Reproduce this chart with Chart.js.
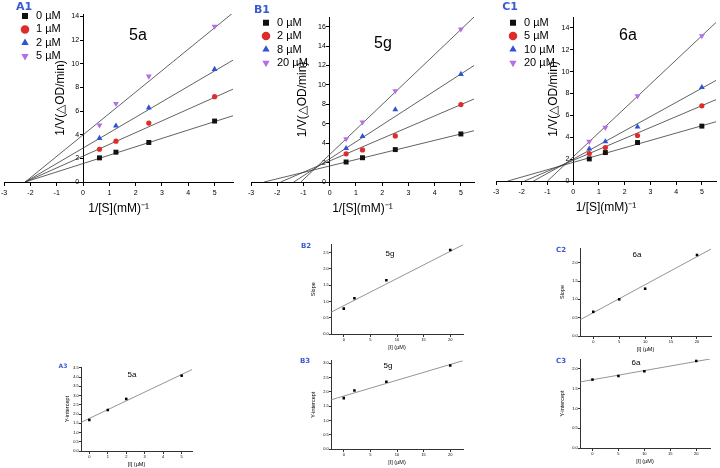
<!DOCTYPE html>
<html>
<head>
<meta charset="utf-8">
<script src="https://cdn.jsdelivr.net/npm/chart.js@4.4.0/dist/chart.umd.min.js"></script>
<style>
body { margin: 0; background: #fff; }
#wrap { position: relative; width: 720px; height: 468px; overflow: hidden; font-family: "Liberation Sans", Arial, sans-serif; }
canvas { position: absolute; }
.note { position: absolute; transform: translate(-50%, -50%); white-space: nowrap; line-height: 1; color: #000; }
.tag { color: #3a5bd2; font-weight: bold; font-family: "DejaVu Sans", sans-serif; }
</style>
</head>
<body>
<div id="wrap">
  <canvas id="a1" width="240" height="215" style="left:-3px;top:0"></canvas>
  <canvas id="b1" width="240" height="215" style="left:240px;top:0"></canvas>
  <canvas id="c1" width="240" height="215" style="left:480px;top:0"></canvas>
  <canvas id="a3" width="200" height="108" style="left:20px;top:360px"></canvas>
  <canvas id="b2" width="180" height="115" style="left:300px;top:240px"></canvas>
  <canvas id="b3" width="180" height="113" style="left:300px;top:355px"></canvas>
  <canvas id="c2" width="180" height="115" style="left:540px;top:240px"></canvas>
  <canvas id="c3" width="180" height="113" style="left:540px;top:355px"></canvas>
</div>
<script>
// Lineweaver-Burk 數據 (1/[S] 對 1/V)
const sInv = [0.625, 1.25, 2.5, 5];

const a1Conc = ['0 µM', '1 µM', '2 µM', '5 µM'];
const a1Rates = [
    [2.04, 2.52, 3.34, 5.15],
    [2.77, 3.45, 4.98, 7.21],
    [3.70, 4.75, 6.28, 9.53],
    [4.80, 6.62, 8.94, 13.15]
];
const a1FitX = [[-2.2, 5.7], [-2.2, 5.7], [-2.2, 5.7], [-2.2, 5.7]];
const a1FitY = [[0, 5.6], [0, 7.85], [0, 10.3], [0, 14.3]];

const b1Conc = ['0 µM', '2 µM', '8 µM', '20 µM'];
const b1Rates = [
    [2.06, 2.50, 3.34, 4.95],
    [2.90, 3.30, 4.75, 7.98],
    [3.47, 4.71, 7.46, 11.10],
    [4.44, 6.16, 9.39, 15.75]
];
const b1FitX = [[-2.5, 5.5], [-1.87, 5.5], [-1.37, 5.5], [-1.1, 5.5]];
const b1FitY = [[0, 5.28], [0, 8.55], [0, 12.0], [0, 17.0]];

const c1Conc = ['0 µM', '5 µM', '10 µM', '20 µM'];
const c1Rates = [
    [2.02, 2.60, 3.52, 5.02],
    [2.51, 3.06, 4.16, 6.88],
    [2.94, 3.61, 4.95, 8.56],
    [3.61, 4.89, 7.77, 13.27]
];
const c1FitX = [[-2.54, 5.55], [-1.89, 5.55], [-1.54, 5.55], [-1.0, 5.55]];
const c1FitY = [[0, 5.42], [0, 7.44], [0, 9.2], [0, 14.5]];

// 二次作圖 (slope / Y-intercept 對 [I])
const a3Inh = [0, 1, 2, 5];
const a3Icept = [1.68, 2.22, 2.82, 4.08];
const a3FitX = [-0.45, 5.56];
const a3FitY = [1.55, 4.41];

const b2Inh = [0, 2, 8, 20];
const b2Slope = [0.78, 1.10, 1.65, 2.58];
const b2FitX = [-2.4, 22.4];
const b2FitY = [0.67, 2.74];
const b3Icept = [1.78, 2.05, 2.35, 2.92];
const b3FitX = [-2.4, 22.4];
const b3FitY = [1.72, 3.09];

const c2Inh = [0, 5, 10, 20];
const c2Slope = [0.66, 1.00, 1.29, 2.21];
const c2FitX = [-2.56, 22.7];
const c2FitY = [0.44, 2.37];
const c3Icept = [1.73, 1.82, 1.94, 2.20];
const c3FitX = [-2.4, 22.65];
const c3FitY = [1.67, 2.25];

// 樣式
const markColors = ['#111111', '#e02b2b', '#2f52d6', '#b46ee6'];
const markStyles = ['rect', 'circle', 'triangle', 'triangle'];
const markRot = [0, 0, 0, 180];
const markSize = [3.5, 2.6, 3.4, 3.4];

Chart.defaults.font.family = '"Liberation Sans", Arial, sans-serif';
Chart.defaults.color = '#000';

// 旋轉的 y 軸標題 (positioned axis 的內建標題方向相反)
const yTitle = {
    id: 'yTitle',
    afterDraw(chart, args, opts) {
        if (!opts.text) return;
        const { ctx, chartArea, scales } = chart;
        const at = scales.x.getPixelForValue(opts.axisAt);
        ctx.save();
        ctx.translate(at - opts.offset, (chartArea.top + chartArea.bottom) / 2);
        ctx.rotate(-Math.PI / 2);
        ctx.font = opts.size + 'px "Liberation Sans", Arial, sans-serif';
        ctx.fillStyle = '#000';
        ctx.textAlign = 'center';
        ctx.textBaseline = 'middle';
        ctx.fillText(opts.text, 0, 0);
        ctx.restore();
    }
};

// 把 chartArea 內的圖例移到指定位置 (第一個標記中心)
const legendShift = {
    id: 'legendShift',
    afterLayout(chart, args, opts) {
        const lg = chart.legend;
        if (!lg || !opts.at) return;
        const lo = lg.options.labels;
        const fs = lo.font.size;
        const bw = Math.min(lo.boxWidth, fs);
        lg.left += opts.at[0] - (lg.left + lo.padding + bw / 2);
        lg.top += opts.at[1] - (lg.top + lo.padding + fs / 2);
    }
};

function axisStyle(lineColor, tick) {
    return {
        grid: { drawOnChartArea: false, tickLength: tick, color: lineColor, lineWidth: 1 },
        border: { display: true, color: lineColor, width: 1 }
    };
}

function kineticChart(id, conc, rates, fitX, fitY, cfg) {
    const points = conc.map((c, i) => ({
        label: c,
        data: sInv.map((x, j) => ({ x: x, y: rates[i][j] })),
        showLine: false,
        pointStyle: markStyles[i],
        pointRotation: markRot[i],
        pointRadius: markSize[i],
        backgroundColor: markColors[i],
        borderColor: markColors[i],
        borderWidth: 0
    }));
    const fits = fitX.map((xs, i) => ({
        label: 'fit',
        data: xs.map((x, j) => ({ x: x, y: fitY[i][j] })),
        showLine: true,
        borderColor: '#3a3a3a',
        borderWidth: 0.8,
        pointRadius: 0
    }));
    return new Chart(document.getElementById(id), {
        type: 'scatter',
        data: { datasets: points.concat(fits) },
        plugins: [yTitle, legendShift],
        options: {
            responsive: false,
            animation: false,
            layout: { padding: cfg.pad },
            scales: {
                x: Object.assign({
                    type: 'linear', position: { y: 0 }, min: cfg.xMin, max: cfg.xMax,
                    ticks: { stepSize: 1, includeBounds: false, font: { size: 7 }, padding: 4, maxRotation: 0 },
                    title: { display: true, text: '1/[S](mM)⁻¹', font: { size: 12 }, padding: { top: 0, bottom: 2 } }
                }, axisStyle('#000', 3)),
                y: Object.assign({
                    type: 'linear', position: { x: 0 }, min: 0, max: cfg.yMax,
                    ticks: { stepSize: 2, includeBounds: false, font: { size: 7 }, padding: 2,
                        callback: v => v + '  ' }
                }, axisStyle('#000', 3))
            },
            plugins: {
                legend: {
                    position: 'chartArea', align: 'start',
                    labels: {
                        usePointStyle: true, boxWidth: 11, boxHeight: 6, padding: 2.4,
                        font: { size: 11 }, color: '#000',
                        filter: item => item.datasetIndex < 4
                    }
                },
                legendShift: { at: cfg.legendAt },
                tooltip: { enabled: false },
                yTitle: { text: '1/V(△OD/min)', size: 12, offset: cfg.titleOffset, axisAt: 0 }
            }
        }
    });
}

function replotChart(id, xs, ys, fitX, fitY, cfg) {
    return new Chart(document.getElementById(id), {
        type: 'scatter',
        data: {
            datasets: [
                {
                    label: 'data', data: xs.map((x, i) => ({ x: x, y: ys[i] })),
                    pointStyle: 'rect', pointRadius: 1.8, backgroundColor: '#000', borderWidth: 0
                },
                {
                    label: 'fit', data: fitX.map((x, i) => ({ x: x, y: fitY[i] })),
                    showLine: true, borderColor: '#7a7a7a', borderWidth: 0.8, pointRadius: 0
                }
            ]
        },
        plugins: [yTitle],
        options: {
            responsive: false,
            animation: false,
            layout: { padding: cfg.pad },
            scales: {
                x: Object.assign({
                    type: 'linear', position: { y: 0 }, min: cfg.xMin, max: cfg.xMax,
                    ticks: { stepSize: cfg.xStep, includeBounds: false, font: { size: 4 }, padding: 1, maxRotation: 0 },
                    title: { display: true, text: '[I] (µM)', font: { size: 5.5 }, padding: { top: 1, bottom: 0 } }
                }, axisStyle('#333', 2)),
                y: Object.assign({
                    type: 'linear', position: { x: cfg.xMin }, min: 0, max: cfg.yMax,
                    ticks: { stepSize: 0.5, includeBounds: false, font: { size: 4 }, padding: 1,
                        callback: v => v.toFixed(1) + '  ' }
                }, axisStyle('#333', 2))
            },
            plugins: {
                legend: { display: false },
                tooltip: { enabled: false },
                yTitle: { text: cfg.yText, size: 5.5, offset: cfg.titleOffset, axisAt: cfg.xMin }
            }
        }
    });
}

kineticChart('a1', a1Conc, a1Rates, a1FitX, a1FitY, {
    xMin: -3, xMax: 5.7, yMax: 14.2, pad: { left: 4, right: 3, top: 14, bottom: 33 },
    legendAt: [28, 16], titleOffset: 22
});
kineticChart('b1', b1Conc, b1Rates, b1FitX, b1FitY, {
    xMin: -3, xMax: 5.5, yMax: 17, pad: { left: 11, right: 6, top: 17, bottom: 33 },
    legendAt: [26, 22.7], titleOffset: 27
});
kineticChart('c1', c1Conc, c1Rates, c1FitX, c1FitY, {
    xMin: -3, xMax: 5.55, yMax: 15, pad: { left: 16, right: 2, top: 17, bottom: 34 },
    legendAt: [33, 22.7], titleOffset: 20
});

replotChart('a3', a3Inh, a3Icept, a3FitX, a3FitY, {
    xMin: -0.45, xMax: 5.56, xStep: 1, yMax: 4.55, yText: 'Y-intercept', titleOffset: 14,
    pad: { left: 61, right: 28, top: 7, bottom: 17 }
});
replotChart('b2', b2Inh, b2Slope, b2FitX, b2FitY, {
    xMin: -2.4, xMax: 22.4, xStep: 5, yMax: 2.75, yText: 'Slope', titleOffset: 18,
    pad: { left: 31, right: 17, top: 4.5, bottom: 21 }
});
replotChart('b3', b2Inh, b3Icept, b3FitX, b3FitY, {
    xMin: -2.4, xMax: 22.4, xStep: 5, yMax: 3.1, yText: 'Y-intercept', titleOffset: 18,
    pad: { left: 31, right: 17, top: 5.4, bottom: 19 }
});
replotChart('c2', c2Inh, c2Slope, c2FitX, c2FitY, {
    xMin: -2.56, xMax: 22.7, xStep: 5, yMax: 2.4, yText: 'Slope', titleOffset: 18,
    pad: { left: 40, right: 9, top: 8, bottom: 19 }
});
replotChart('c3', c2Inh, c3Icept, c3FitX, c3FitY, {
    xMin: -2.4, xMax: 22.65, xStep: 5, yMax: 2.25, yText: 'Y-intercept', titleOffset: 18,
    pad: { left: 40, right: 10, top: 3.3, bottom: 20 }
});

// 面板標籤與化合物名稱
const notes = [
    ['A1', 24, 5.5, 11, true], ['B1', 262, 8.5, 11, true], ['C1', 510, 5.5, 11, true],
    ['5a', 138, 35, 16, false], ['5g', 383, 43, 16, false], ['6a', 628, 35, 16, false],
    ['A3', 63, 366, 6, true], ['5a', 132, 375, 8, false],
    ['B2', 306, 246, 7, true], ['5g', 390, 254, 8, false],
    ['B3', 305, 361, 7, true], ['5g', 388, 366, 8, false],
    ['C2', 561, 250, 7, true], ['6a', 637, 255, 8, false],
    ['C3', 561, 361, 7, true], ['6a', 636, 363, 8, false]
];
const wrap = document.getElementById('wrap');
notes.forEach(([text, x, y, size, isTag]) => {
    const d = document.createElement('div');
    d.className = isTag ? 'note tag' : 'note';
    d.textContent = text;
    d.style.left = x + 'px';
    d.style.top = y + 'px';
    d.style.fontSize = size + 'px';
    wrap.appendChild(d);
});
</script>
</body>
</html>
